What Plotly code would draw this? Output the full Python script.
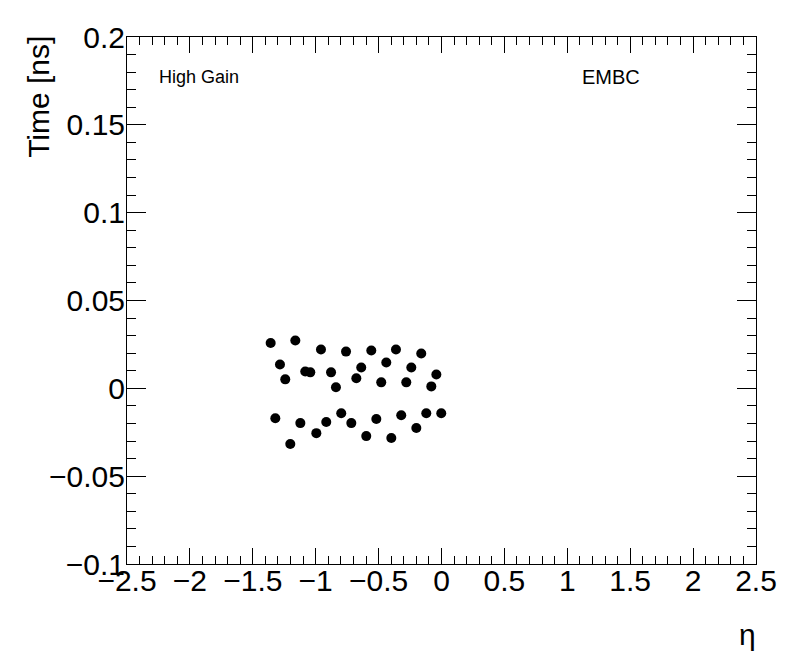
import plotly.graph_objects as go

# eta / time values
eta = [-1.358, -1.162, -0.958, -0.759, -0.558, -0.362, -0.161,
       -1.284, -1.083, -1.043, -0.878, -0.638, -0.439, -0.240, -0.041,
       -1.242, -0.839, -0.677, -0.479, -0.280, -0.081,
       -1.321, -1.122, -0.916, -0.797, -0.717, -0.518, -0.320, -0.121, -0.002,
       -1.202, -0.995, -0.598, -0.399, -0.200]
time_ns = [0.0258, 0.0272, 0.0221, 0.0209, 0.0215, 0.0221, 0.0198,
           0.0136, 0.0096, 0.0091, 0.0091, 0.0119, 0.0147, 0.0119, 0.0079,
           0.0051, 0.0006, 0.0057, 0.0034, 0.0034, 0.0011,
           -0.0170, -0.0198, -0.0192, -0.0142, -0.0198, -0.0175, -0.0153, -0.0142, -0.0142,
           -0.0317, -0.0255, -0.0272, -0.0283, -0.0226]

FONT = "Liberation Sans, Arial, Helvetica, sans-serif"

fig = go.Figure()
fig.add_trace(go.Scatter(x=eta, y=time_ns, mode="markers",
                         marker=dict(color="black", size=10), showlegend=False))

axis_common = dict(
    showgrid=False, zeroline=False,
    showline=True, linecolor="black", linewidth=1, mirror="allticks",
    ticks="inside", tickcolor="black", tickwidth=1,
    tickfont=dict(family=FONT, size=30, color="black"),
)

# page body adds 8px offset, margins compensate for it
fig.update_layout(
    width=796, height=672,
    paper_bgcolor="white", plot_bgcolor="white",
    margin=dict(l=119, r=48, t=26, b=116),
    xaxis=dict(range=[-2.5, 2.5], dtick=0.5, tick0=-2.5, ticklen=16,
               ticklabelstandoff=-10,
               minor=dict(dtick=0.1, ticks="inside", ticklen=8, tickcolor="black"),
               **axis_common),
    yaxis=dict(range=[-0.1, 0.2], dtick=0.05, tick0=-0.1, ticklen=19,
               ticklabelstandoff=-5,
               minor=dict(dtick=0.01, ticks="inside", ticklen=9, tickcolor="black"),
               **axis_common),
    annotations=[
        dict(text="High Gain", xref="paper", yref="paper", x=0.048, y=0.925,
             xanchor="left", yanchor="middle", showarrow=False,
             font=dict(family=FONT, size=18, color="black")),
        dict(text="EMBC", xref="paper", yref="paper", x=0.72, y=0.925,
             xanchor="left", yanchor="middle", showarrow=False,
             font=dict(family=FONT, size=20, color="black")),
        dict(text="Time [ns]", xref="paper", yref="paper", x=-0.141, y=0.887,
             xanchor="center", yanchor="middle", textangle=-90, showarrow=False,
             font=dict(family=FONT, size=30, color="black")),
        dict(text="η", xref="paper", yref="paper", x=0.986, y=-0.133,
             xanchor="center", yanchor="middle", showarrow=False,
             font=dict(family=FONT, size=30, color="black")),
    ],
)

fig.write_html("out.html")
